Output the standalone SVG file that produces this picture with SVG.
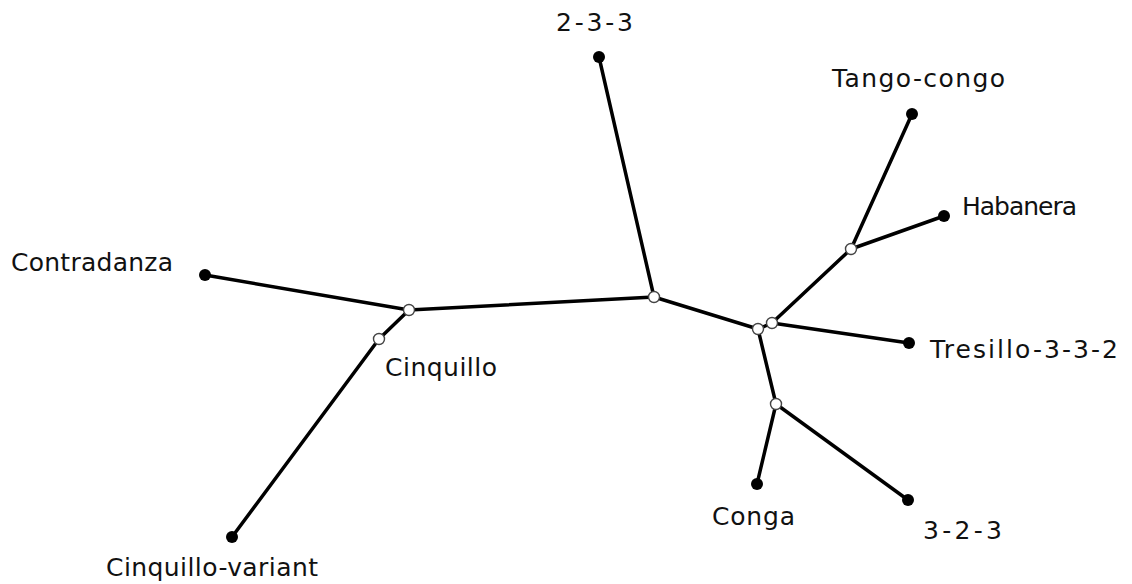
<svg xmlns="http://www.w3.org/2000/svg" width="1132" height="584" viewBox="0 0 1132 584">
<style>
.e{stroke:#000;stroke-width:3.5;fill:none;stroke-linecap:round}
.leaf{fill:#000}
.inner{fill:#fff;stroke:#444;stroke-width:1.4}
text{font-family:"DejaVu Sans","Liberation Sans",sans-serif;font-size:25px;fill:#111}
</style>
<rect width="1132" height="584" fill="#fff"/>
<g id="edges">
<line class="e" x1="205" y1="275" x2="409" y2="310"/>
<line class="e" x1="409" y1="310" x2="379" y2="339"/>
<line class="e" x1="379" y1="339" x2="232" y2="537"/>
<line class="e" x1="409" y1="310" x2="654" y2="297"/>
<line class="e" x1="654" y1="297" x2="599" y2="57"/>
<line class="e" x1="654" y1="297" x2="758" y2="329"/>
<line class="e" x1="758" y1="329" x2="772" y2="323"/>
<line class="e" x1="772" y1="323" x2="851" y2="249"/>
<line class="e" x1="851" y1="249" x2="912" y2="114"/>
<line class="e" x1="851" y1="249" x2="944" y2="216"/>
<line class="e" x1="772" y1="323" x2="909" y2="343"/>
<line class="e" x1="758" y1="329" x2="776" y2="404"/>
<line class="e" x1="776" y1="404" x2="757" y2="484"/>
<line class="e" x1="776" y1="404" x2="908" y2="500"/>
</g>
<g id="n-contradanza"><circle class="leaf" cx="205" cy="275" r="6"/><text x="11" y="271" textLength="162" lengthAdjust="spacing">Contradanza</text></g>
<g id="n-cinquillo-variant"><circle class="leaf" cx="232" cy="537" r="6"/><text x="106" y="576" textLength="212" lengthAdjust="spacing">Cinquillo-variant</text></g>
<g id="n-2-3-3"><circle class="leaf" cx="599" cy="57" r="6"/><text x="556" y="31" textLength="77" lengthAdjust="spacing">2-3-3</text></g>
<g id="n-tango-congo"><circle class="leaf" cx="912" cy="114" r="6"/><text x="832" y="87" textLength="173" lengthAdjust="spacing">Tango-congo</text></g>
<g id="n-habanera"><circle class="leaf" cx="944" cy="216" r="6"/><text x="962" y="215" textLength="115" lengthAdjust="spacing">Habanera</text></g>
<g id="n-tresillo"><circle class="leaf" cx="909" cy="343" r="6"/><text x="930" y="358" textLength="188" lengthAdjust="spacing">Tresillo-3-3-2</text></g>
<g id="n-conga"><circle class="leaf" cx="757" cy="484" r="6"/><text x="712" y="525" textLength="83" lengthAdjust="spacing">Conga</text></g>
<g id="n-3-2-3"><circle class="leaf" cx="908" cy="500" r="6"/><text x="923" y="539" textLength="79" lengthAdjust="spacing">3-2-3</text></g>
<g id="n-cinquillo"><circle class="inner" cx="379" cy="339" r="5.5"/><text x="385" y="376" textLength="112" lengthAdjust="spacing">Cinquillo</text></g>
<g id="n-i1"><circle class="inner" cx="409" cy="310" r="5.5"/></g>
<g id="n-center"><circle class="inner" cx="654" cy="297" r="5.5"/></g>
<g id="n-i2"><circle class="inner" cx="758" cy="329" r="5.5"/></g>
<g id="n-i3"><circle class="inner" cx="772" cy="323" r="5.5"/></g>
<g id="n-i4"><circle class="inner" cx="851" cy="249" r="5.5"/></g>
<g id="n-i5"><circle class="inner" cx="776" cy="404" r="5.5"/></g>
</svg>
